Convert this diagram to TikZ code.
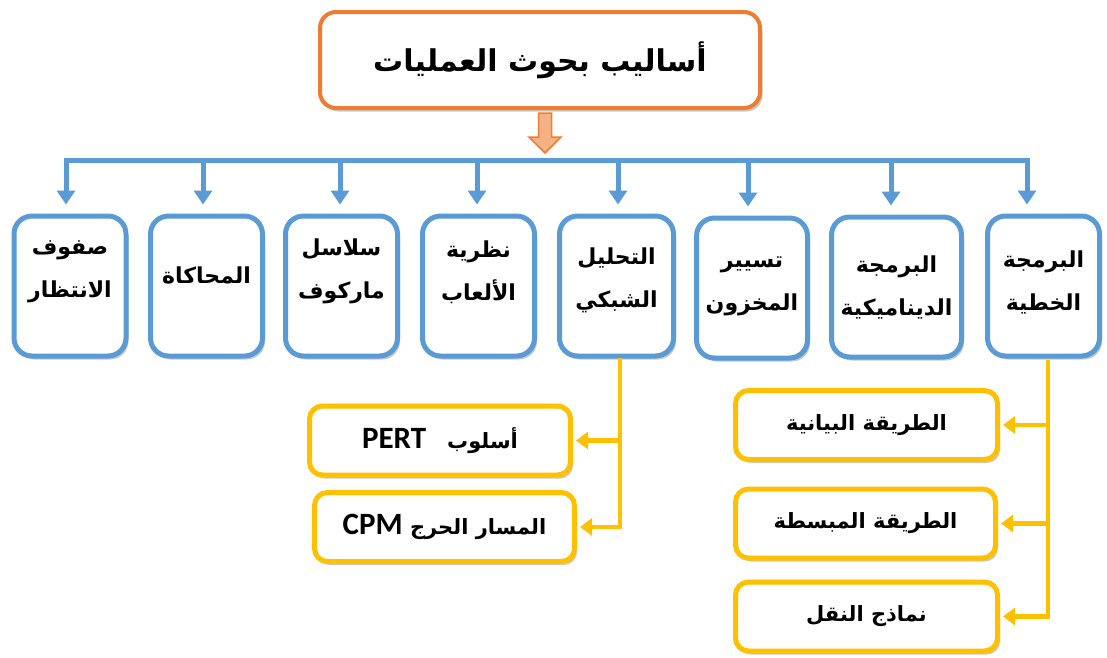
\documentclass[tikz,border=0pt]{standalone}
\usepackage{fontspec}
\newfontfamily\arabicfont[Script=Arabic]{DejaVu Sans}
\newfontfamily\latinfont{Carlito}
\TeXXeTstate=1
\usetikzlibrary{arrows.meta,shadows}
\newcommand\rtl[1]{\beginR #1\endR}
\newcommand\ltr[1]{\beginL{\latinfont\bfseries #1}\endL}
\definecolor{blueA}{HTML}{5B9BD5}
\definecolor{orgA}{HTML}{ED7D31}
\definecolor{orgL}{HTML}{F4B183}
\definecolor{goldA}{HTML}{FFC000}
\begin{document}
\begin{tikzpicture}[x=1pt,y=-1pt,
  softshadow/.style={drop shadow={shadow xshift=2.5pt,shadow yshift=-3.5pt,opacity=0.3,fill=black!70}},
  titlebox/.style={draw=orgA,line width=4pt,rounded corners=16pt,fill=white,
    minimum width=440pt,minimum height=96pt,softshadow,
    font=\arabicfont\bfseries\fontsize{30}{36}\selectfont},
  bbox/.style={draw=blueA,line width=5pt,rounded corners=18pt,fill=white,
    minimum height=140pt,softshadow},
  btxt/.style={font=\arabicfont\bfseries\fontsize{22}{43}\selectfont,align=center,inner sep=0pt},
  gbox/.style={draw=goldA,line width=5pt,rounded corners=13pt,fill=white,
    minimum height=69pt,softshadow,
    font=\arabicfont\bfseries\fontsize{21}{26}\selectfont},
  bline/.style={draw=blueA,line width=5pt},
  barrow/.style={bline,-{Triangle[width=18pt,length=14pt]},shorten >=9pt},
  gline/.style={draw=goldA,line width=4.5pt},
  garrow/.style={gline,-{Triangle[width=17pt,length=12pt]},shorten >=3pt}]
\useasboundingbox (0,0) rectangle (1107,657);

% main title
\node[titlebox] (title) at (540,60) {\rtl{أساليب بحوث العمليات}};

% block arrow under the title
\draw[fill=orgL,draw=orgA,line width=1.5pt,line join=miter]
  (538.5,113) -- (551.5,113) -- (551.5,137) -- (561,137) -- (545,153)
  -- (529,137) -- (538.5,137) -- cycle;

% first level boxes
\node[bbox,minimum width=112pt] (b1) at (70,286) {};
\node[bbox,minimum width=112pt] (b2) at (206.5,286) {};
\node[bbox,minimum width=112pt] (b3) at (341.5,286) {};
\node[bbox,minimum width=112pt] (b4) at (478.5,286) {};
\node[bbox,minimum width=114pt] (b5) at (616.5,286) {};
\node[bbox,minimum width=111pt] (b6) at (752,288) {};
\node[bbox,minimum width=130pt] (b7) at (896.5,287) {};
\node[bbox,minimum width=112pt] (b8) at (1043.5,286) {};

\node[btxt] (b1t) at ([yshift=14pt]b1.center) {\rtl{صفوف}\\\rtl{الانتظار}};
\node[btxt] (b2t) at ([yshift=11pt]b2.center) {\rtl{المحاكاة}};
\node[btxt] (b3t) at ([yshift=15pt]b3.center) {\rtl{سلاسل}\\\rtl{ماركوف}};
\node[btxt] (b4t) at ([yshift=14pt]b4.center) {\rtl{نظرية}\\\rtl{الألعاب}};
\node[btxt] (b5t) at ([yshift=6pt]b5.center) {\rtl{التحليل}\\\rtl{الشبكي}};
\node[btxt] (b6t) at ([yshift=2pt]b6.center) {\rtl{تسيير}\\\rtl{المخزون}};
\node[btxt] (b7t) at ([yshift=0pt]b7.center) {\rtl{البرمجة}\\\rtl{الديناميكية}};
\node[btxt] (b8t) at ([yshift=4pt]b8.center) {\rtl{البرمجة}\\\rtl{الخطية}};

% blue bus with its arrows
\coordinate (t1) at (66,160);
\coordinate (t2) at (203,160);
\coordinate (t3) at (340,160);
\coordinate (t4) at (477,160);
\coordinate (t5) at (618,160);
\coordinate (t6) at (748,160);
\coordinate (t7) at (891,160);
\coordinate (t8) at (1027,160);
\draw[bline,line cap=rect] (t1) -- (t8);
\foreach \i in {1,...,8}{\draw[barrow] (t\i) -- (t\i |- b\i.north);}

% second level boxes
\node[gbox,minimum width=261pt] (pert) at (440,440.5) {\rtl{أسلوب\quad\ltr{\fontsize{31}{32}\selectfont PERT}}};
\node[gbox,minimum width=260pt] (cpm) at (444.5,527) {\rtl{المسار الحرج \ltr{\fontsize{31}{32}\selectfont CPM}}};
\node[gbox,minimum width=262pt] (lpA) at (866.5,425) {\rtl{الطريقة البيانية}};
\node[gbox,minimum width=260pt] (lpB) at (865.5,523.5) {\rtl{الطريقة المبسطة}};
\node[gbox,minimum width=262pt] (lpC) at (866.5,616.5) {\rtl{نماذج النقل}};

% gold connectors
\coordinate (gL) at (620,358);
\draw[garrow] (gL) |- (cpm.east);
\draw[garrow] (gL |- pert.east) -- (pert.east);
\coordinate (gR) at (1048,360);
\draw[garrow] (gR) |- (lpC.east);
\draw[garrow] (gR |- lpA.east) -- (lpA.east);
\draw[garrow] (gR |- lpB.east) -- (lpB.east);
\end{tikzpicture}
\end{document}
